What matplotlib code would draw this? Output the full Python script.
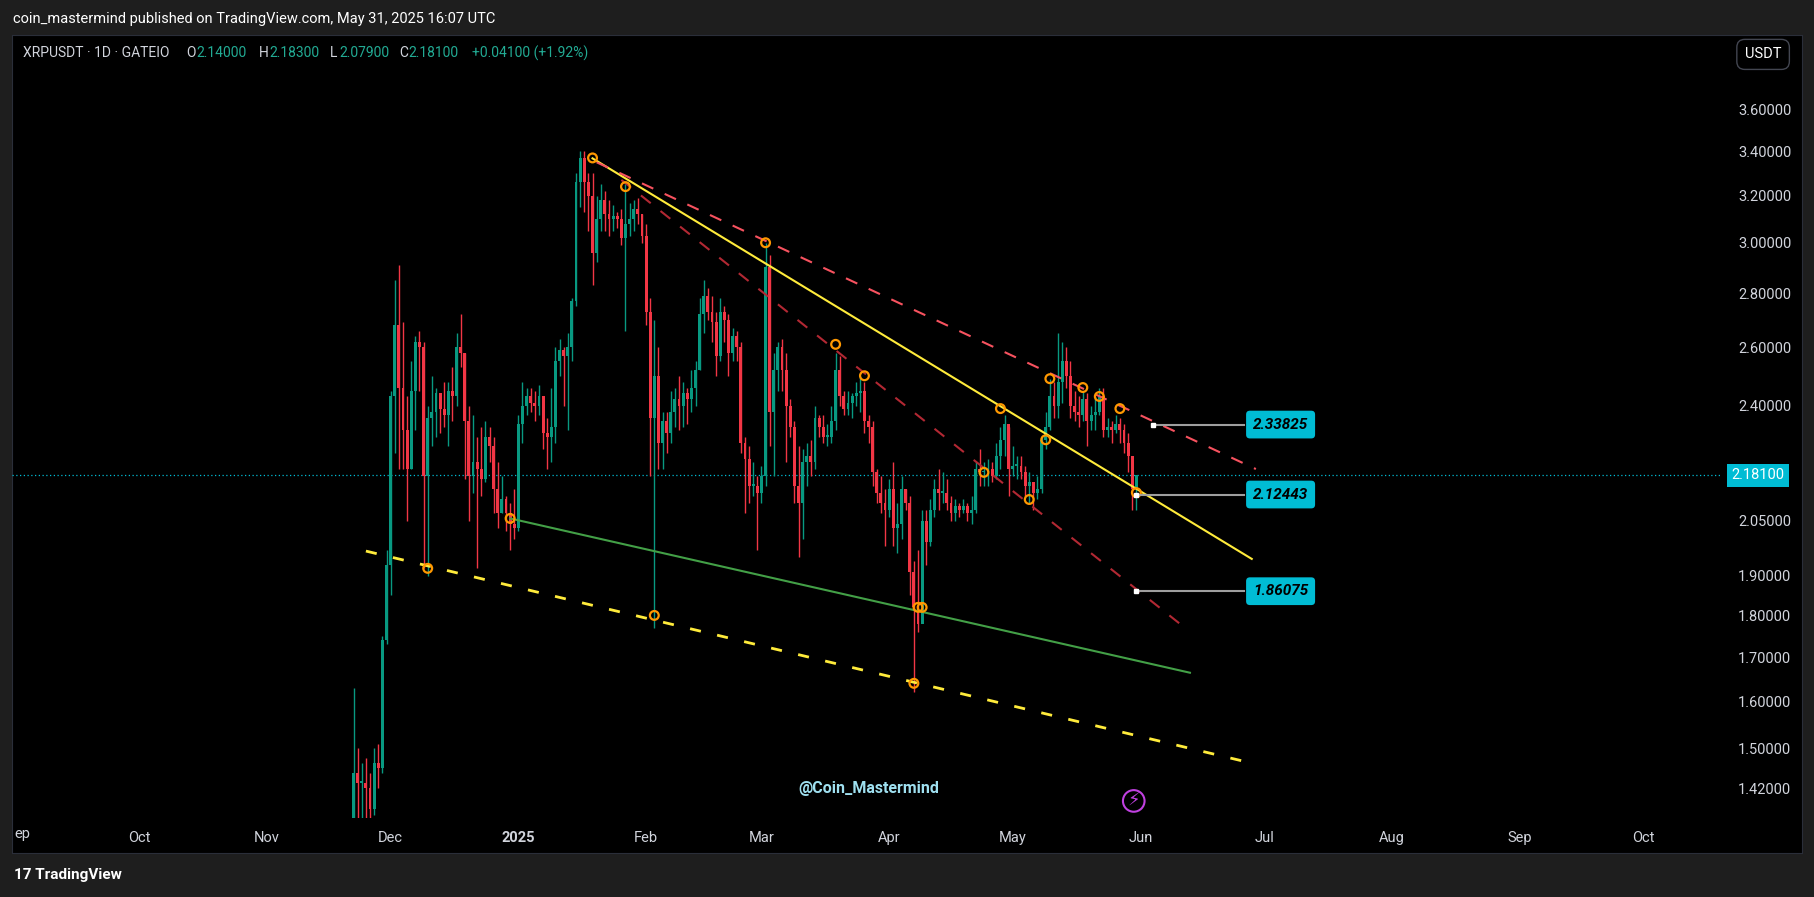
import matplotlib
matplotlib.use("Agg")
import matplotlib.pyplot as plt
import matplotlib.dates as mdates
from matplotlib.patches import Rectangle
import pandas as pd
import numpy as np

# ---------------- data ----------------
start_date = "2024-11-22"
first_open = 1.36
closes = [1.45,1.43,1.43,1.42,1.38,1.47,1.46,1.74,1.93,
  2.43,2.68,2.46,2.32,2.20,2.45,2.62,2.60,2.18,2.36,2.38,2.44,2.39,2.37,2.45,2.43,2.60,2.58,2.35,2.18,2.22,2.20,2.17,2.30,2.27,2.14,2.07,2.11,2.07,2.04,2.03,
  2.34,2.40,2.43,2.41,2.40,2.43,2.31,2.30,2.33,2.55,2.59,2.57,2.60,2.77,3.26,3.37,3.26,3.20,2.96,3.10,3.18,3.12,3.10,3.11,3.10,3.02,3.08,3.10,3.14,3.12,3.03,
  2.73,2.36,2.50,2.28,2.35,2.31,2.38,2.42,2.40,2.44,2.42,2.46,2.52,2.72,2.79,2.73,2.69,2.57,2.73,2.70,2.58,2.64,2.60,2.28,2.23,2.15,2.15,2.13,
  2.18,2.90,2.38,2.52,2.60,2.52,2.40,2.33,2.15,2.10,2.22,2.24,2.22,2.36,2.33,2.30,2.30,2.35,2.52,2.43,2.39,2.41,2.43,2.44,2.45,2.35,2.33,2.19,2.13,2.10,2.08,
  2.14,2.03,2.04,2.14,2.10,1.91,1.82,1.78,2.05,1.99,2.08,2.14,2.13,2.13,2.10,2.07,2.09,2.08,2.09,2.07,2.08,2.20,2.19,2.19,2.20,2.18,2.24,2.29,2.34,2.20,
  2.21,2.21,2.19,2.15,2.16,2.13,2.14,2.29,2.33,2.43,2.40,2.48,2.55,2.50,2.40,2.38,2.37,2.42,2.35,2.37,2.38,2.43,2.32,2.33,2.32,2.34,2.32,2.28,2.24,2.14,2.181]
highs = [1.63,1.50,1.47,1.48,1.45,1.50,1.51,1.75,1.97,
  2.45,2.85,2.91,2.69,2.43,2.55,2.64,2.66,2.62,2.40,2.50,2.46,2.42,2.48,2.48,2.53,2.65,2.72,2.58,2.40,2.37,2.30,2.33,2.35,2.33,2.30,2.22,2.18,2.12,2.10,2.14,
  2.37,2.48,2.46,2.46,2.45,2.47,2.43,2.36,2.46,2.60,2.63,2.60,2.65,2.78,3.30,3.40,3.40,3.30,3.30,3.20,3.25,3.22,3.18,3.16,3.13,3.14,3.25,3.17,3.18,3.19,3.12,
  3.08,2.78,2.70,2.60,2.38,2.38,2.45,2.46,2.50,2.48,2.46,2.52,2.55,2.78,2.85,2.82,2.79,2.73,2.78,2.75,2.72,2.67,2.66,2.62,2.30,2.27,2.22,2.18,
  2.21,3.00,2.95,2.58,2.62,2.63,2.58,2.42,2.35,2.27,2.26,2.28,2.29,2.40,2.37,2.37,2.34,2.40,2.58,2.57,2.45,2.45,2.44,2.48,2.50,2.48,2.37,2.35,2.20,2.18,2.14,
  2.17,2.22,2.10,2.18,2.14,2.12,1.94,1.97,2.08,2.08,2.11,2.17,2.20,2.19,2.17,2.12,2.11,2.10,2.11,2.10,2.12,2.22,2.26,2.22,2.23,2.22,2.28,2.33,2.37,2.33,
  2.27,2.24,2.24,2.21,2.19,2.16,2.18,2.30,2.38,2.49,2.48,2.65,2.62,2.60,2.55,2.45,2.43,2.45,2.44,2.40,2.43,2.46,2.46,2.36,2.35,2.37,2.36,2.34,2.31,2.24,2.183]
lows = [1.35,1.35,1.35,1.35,1.33,1.37,1.42,1.45,1.73,
  1.85,2.25,2.20,2.20,2.05,2.20,2.32,2.45,1.92,1.90,2.27,2.30,2.31,2.33,2.27,2.35,2.40,2.53,2.17,2.05,2.13,1.92,2.12,2.16,2.22,2.07,2.03,2.07,2.02,1.97,2.00,
  2.02,2.28,2.37,2.38,2.35,2.37,2.26,2.20,2.22,2.28,2.50,2.40,2.32,2.55,2.75,3.15,3.13,3.05,2.83,2.92,3.05,3.05,3.03,3.05,3.06,2.99,2.66,3.03,3.05,3.08,3.00,
  2.68,2.18,1.77,2.20,2.20,2.25,2.28,2.33,2.32,2.33,2.34,2.38,2.40,2.52,2.65,2.70,2.62,2.50,2.55,2.62,2.50,2.55,2.55,2.25,2.07,2.10,2.12,1.97,
  2.10,2.15,2.27,2.18,2.45,2.45,2.22,2.30,2.10,1.95,2.00,2.15,2.18,2.20,2.30,2.28,2.27,2.28,2.32,2.40,2.37,2.37,2.36,2.40,2.38,2.31,2.28,2.15,2.10,2.07,1.98,
  2.06,1.98,1.96,2.00,2.08,1.85,1.62,1.76,1.79,1.93,1.98,2.06,2.08,2.10,2.08,2.05,2.05,2.06,2.07,2.05,2.04,2.07,2.15,2.15,2.15,2.16,2.17,2.20,2.24,2.12,
  2.18,2.17,2.17,2.12,2.10,2.08,2.11,2.13,2.26,2.32,2.36,2.36,2.41,2.46,2.36,2.35,2.33,2.35,2.27,2.32,2.32,2.37,2.30,2.30,2.28,2.31,2.28,2.25,2.19,2.08,2.079]

# trend lines: (start date, start price, end date, end price)
line_yellow_solid = ("2025-01-19", 3.368, "2025-06-28", 1.945)
line_red_upper    = ("2025-01-20", 3.35,  "2025-06-29", 2.20)
line_red_lower    = ("2025-01-26", 3.27,  "2025-06-12", 1.768)
line_green        = ("2024-12-30", 2.056, "2025-06-13", 1.664)
line_yellow_dash  = ("2024-11-25", 1.966, "2025-06-29", 1.468)

marker_dates  = ["2025-01-19","2025-01-27","2025-03-02","2025-03-19","2025-03-26","2025-04-28","2025-04-24",
                 "2025-05-05","2025-05-09","2025-05-10","2025-05-18","2025-05-22","2025-05-27","2025-05-31",
                 "2024-12-30","2024-12-10","2025-02-03","2025-04-08","2025-04-09","2025-04-07"]
marker_prices = [3.37,3.24,3.00,2.61,2.50,2.39,2.19,2.11,2.29,2.49,2.46,2.43,2.39,2.13,2.056,1.92,1.80,1.82,1.82,1.64]

callout_prices = [2.33825, 2.12443, 1.86075]
callout_starts = ["2025-06-04", "2025-05-31", "2025-05-31"]
callout_end = "2025-06-26"
callout_box = "2025-07-05"

last_price = 2.181
ytick_vals = [3.6,3.4,3.2,3.0,2.8,2.6,2.4,2.05,1.9,1.8,1.7,1.6,1.5,1.42,1.345]
month_ticks = ["2024-10-01","2024-11-01","2024-12-01","2025-01-01","2025-02-01","2025-03-01","2025-04-01",
               "2025-05-01","2025-06-01","2025-07-01","2025-08-01","2025-09-01","2025-10-01"]
month_labels = ["Oct","Nov","Dec","2025","Feb","Mar","Apr","May","Jun","Jul","Aug","Sep","Oct"]

# ---------------- figure ----------------
W, H = 1568.0, 775.0
fig = plt.figure(figsize=(18.14, 8.97), dpi=100, facecolor="#1e1e1e")
FONT = "Roboto"
bg = fig.add_axes([10/W, 1-737/H, 1548/W, 707/H], zorder=0)
bg.set_facecolor("black")
bg.set_xticks([]); bg.set_yticks([])
for sp in bg.spines.values():
    sp.set_color("#2a2e39")

ax = fig.add_axes([10/W, 1-707/H, 1478/W, 677/H], zorder=2)
ax.set_facecolor("none")
ax.set_yscale("log")
ax.set_ylim(1.363, 3.99)
ax.set_xlim(mdates.date2num(pd.Timestamp("2024-08-31")), mdates.date2num(pd.Timestamp("2025-10-20")))

dates = pd.date_range(start_date, periods=len(closes), freq="D")
xs = mdates.date2num(dates)
opens = [first_open] + closes[:-1]
up_c, dn_c = "#089981", "#f23645"
for x, o, h, l, c in zip(xs, opens, highs, lows, closes):
    col = up_c if c >= o else dn_c
    ax.vlines(x, l, h, color=col, lw=1, zorder=3)
    lo, hi = min(o, c), max(o, c)
    if hi - lo < 0.004:
        hi = lo + 0.004
    ax.bar(x, hi - lo, bottom=lo, width=0.7, color=col, zorder=4, linewidth=0)

def tl(spec, **kw):
    d0, p0, d1, p1 = spec
    ax.plot(mdates.date2num([pd.Timestamp(d0), pd.Timestamp(d1)]), [p0, p1], zorder=5, **kw)

tl(line_yellow_solid, color="#ffeb3b", lw=1.5)
tl(line_red_upper, color="#f7525f", lw=1.5, ls=(0, (6, 6)))
tl(line_red_lower, color="#b22833", lw=1.5, ls=(0, (6, 6)))
tl(line_green, color="#43a047", lw=1.5)
tl(line_yellow_dash, color="#ffeb3b", lw=2, ls=(0, (4, 6)))

ax.scatter(mdates.date2num(pd.to_datetime(marker_dates)), marker_prices, s=40, facecolors="none",
           edgecolors="#ff9800", linewidths=1.6, zorder=6)

ax.axhline(last_price, color="#00bcd4", lw=0.9, ls=(0, (1, 2)), zorder=2)

for p, s in zip(callout_prices, callout_starts):
    x0 = mdates.date2num(pd.Timestamp(s)); x1 = mdates.date2num(pd.Timestamp(callout_end))
    ax.plot([x0, x1], [p, p], color="#9e9e9e", lw=1.5, zorder=6)
    ax.plot([x0], [p], marker="s", ms=3.5, color="white", zorder=7)
    ax.text(mdates.date2num(pd.Timestamp(callout_box)), p, f"{p:.5f}", ha="center", va="center",
            fontsize=11, fontweight="bold", style="italic", color="black", family=FONT, zorder=8,
            bbox=dict(boxstyle="round,pad=0.45,rounding_size=0.25", fc="#00bcd4", ec="none"))

for sp in ax.spines.values():
    sp.set_visible(False)
ax.yaxis.tick_right()
ax.yaxis.set_major_locator(matplotlib.ticker.FixedLocator(ytick_vals))
ax.yaxis.set_minor_locator(matplotlib.ticker.NullLocator())
ax.yaxis.set_major_formatter(matplotlib.ticker.FuncFormatter(lambda v, p: f"{v:.5f}"))
ax.tick_params(axis="y", length=0, colors="#d1d4dc", labelsize=10.5, pad=12)
ax.set_xticks(mdates.date2num(pd.to_datetime(month_ticks)))
ax.set_xticklabels(month_labels)
ax.tick_params(axis="x", length=0, colors="#d1d4dc", labelsize=10.5, pad=9)
for lab in ax.get_xticklabels() + ax.get_yticklabels():
    lab.set_family(FONT)
ax.get_xticklabels()[3].set_fontweight("bold")
ax.grid(False)

ax.text(1.006, last_price, f"{last_price:.5f}", transform=ax.get_yaxis_transform(), ha="left", va="center",
        fontsize=10.5, color="white", family=FONT, zorder=9,
        bbox=dict(boxstyle="square,pad=0.3", fc="#00bcd4", ec="none"))

fig.text(11/W, 1-16/H, "coin_mastermind published on TradingView.com, May 31, 2025 16:07 UTC",
         color="white", fontsize=10.5, family=FONT, va="center")
teal = "#22ab94"; grey = "#d1d4dc"
pieces = [(20, "XRPUSDT · 1D · GATEIO", grey), (161, "O", grey), (170, "2.14000", teal), (224, "H", grey),
          (233, "2.18300", teal), (285, "L", grey), (293, "2.07900", teal), (345, "C", grey),
          (353, "2.18100", teal), (408, "+0.04100 (+1.92%)", teal)]
for px, t, c in pieces:
    fig.text(px/W, 1-46/H, t, color=c, fontsize=10, family=FONT, va="center", zorder=5)
fig.text(1524/W, 1-47/H, "USDT", color="white", fontsize=10.5, family=FONT, ha="center", va="center",
         zorder=5, bbox=dict(boxstyle="round,pad=0.55", fc="black", ec="#434651"))
fig.text(751/W, 1-681/H, "@Coin_Mastermind", color="#9fe0f0", fontsize=11.5, family=FONT,
         ha="center", va="center", fontweight="bold", zorder=5)
fig.text(980/W, 1-692/H, "⚡", color="#c040e0", fontsize=13, ha="center", va="center", zorder=5,
         bbox=dict(boxstyle="circle,pad=0.1", fc="none", ec="#c040e0", lw=1.5))
fig.text(12/W, 1-721/H, "ep", color="#d1d4dc", fontsize=10.5, family=FONT, va="center", zorder=5)
fig.text(12/W, 1-756/H, "17 TradingView", color="white", fontsize=11, family=FONT, va="center",
         fontweight="bold")

fig.savefig("out.png", dpi=100, facecolor=fig.get_facecolor())
